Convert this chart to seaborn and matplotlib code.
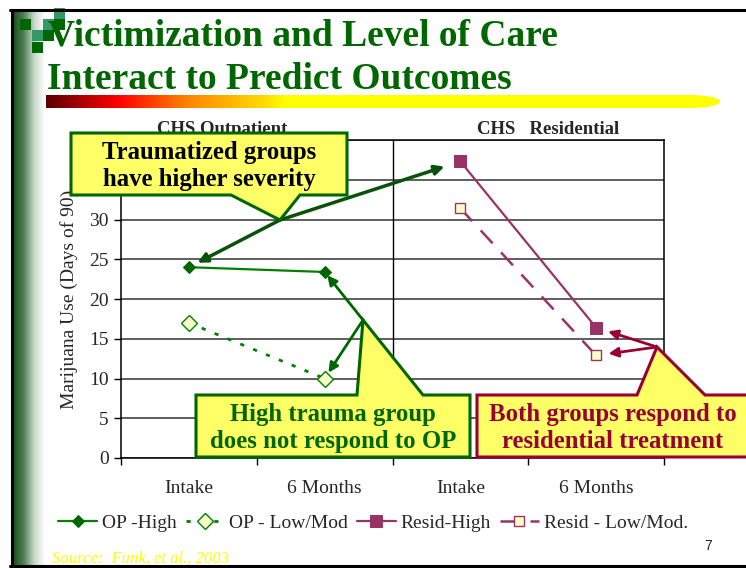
import numpy as np
import matplotlib
matplotlib.use("Agg")
import matplotlib.pyplot as plt
import seaborn as sns
from matplotlib.patches import Polygon, Rectangle, Ellipse
from matplotlib.lines import Line2D
from matplotlib.colors import LinearSegmentedColormap

# chart data
time_labels = ["Intake", "6 Months", "Intake", "6 Months"]
op_high = [24.0, 23.4]
op_low = [17.0, 10.0]
resid_high = [37.3, 16.4]
resid_low = [31.4, 12.9]
series_names = ["OP -High", "OP - Low/Mod", "Resid-High", "Resid - Low/Mod."]
panel_titles = ["CHS Outpatient", "CHS   Residential"]

W, H = 746, 568
GREEN = "#006600"
LINE_GREEN = "#008000"
PLUM = "#993366"
CRIMSON = "#990033"
CALLOUT = "#FFFF66"
CREAM = "#FFFFCC"

sns.set_style("white")
plt.rcParams["font.family"] = ["Liberation Serif", "DejaVu Serif"]


def fx(x):
    return x / W


def fy(y):
    return 1 - y / H


fig = plt.figure(figsize=(W / 100, H / 100), dpi=100)
fig.patch.set_facecolor("white")

# slide decoration: left green shade, border, logo squares
shade = fig.add_axes([fx(13), fy(565), fx(45) - fx(13), (565 - 11) / H])
shade_cmap = LinearSegmentedColormap.from_list("shade", ["#174f17", "#4f7f55", "#c8d8c8", "#ffffff"])
shade.imshow(np.linspace(0, 1, 200)[None, :], aspect="auto", cmap=shade_cmap)
shade.axis("off")

for (x0, y0, c) in [(54, 8, "#339966"), (20, 19, GREEN), (43, 19, "#339966"), (54, 19, GREEN),
                    (32, 30, "#339966"), (43, 30, GREEN), (32, 42, GREEN)]:
    fig.add_artist(Rectangle((fx(x0), fy(y0 + 11)), 11 / W, 11 / H, transform=fig.transFigure,
                             facecolor=c, edgecolor="none", zorder=4))

for xs, ys in [((10, 746), (10, 10)), ((11.5, 11.5), (10, 566)), ((10, 746), (566, 566))]:
    fig.add_artist(Line2D([fx(v) for v in xs], [fy(v) for v in ys], transform=fig.transFigure,
                          color="black", lw=2.2, zorder=20))

# title and gradient bar
fig.text(fx(48), fy(45), "Victimization and Level of Care", fontsize=27, weight="bold",
         color=GREEN, va="baseline", zorder=6)
fig.text(fx(47), fy(89), "Interact to Predict Outcomes", fontsize=27, weight="bold",
         color=GREEN, va="baseline", zorder=6)

bar = fig.add_axes([fx(46), fy(108), fx(286) - fx(46), 13 / H])
bar_cmap = LinearSegmentedColormap.from_list(
    "bar", [(0, "#5a0000"), (0.3, "#ff0000"), (0.6, "#ff8800"), (0.92, "#ffdd00"), (1, "#ffff00")])
bar.imshow(np.linspace(0, 1, 300)[None, :], aspect="auto", cmap=bar_cmap)
bar.axis("off")
fig.add_artist(Rectangle((fx(285), fy(108)), (690 - 285) / W, 13 / H, transform=fig.transFigure,
                         facecolor="#ffff00", edgecolor="none"))
fig.add_artist(Ellipse((fx(690), fy(101.5)), 60 / W, 13 / H, transform=fig.transFigure,
                       facecolor="#ffff00", edgecolor="none"))

# main chart
ax = fig.add_axes([fx(121), fy(458), fx(664) - fx(121), fy(140) - fy(458)])
op_x = np.arange(len(op_high))
resid_x = op_x + len(op_high)

sns.lineplot(x=op_x, y=op_high, ax=ax, color=LINE_GREEN, lw=1.6, marker="D", markersize=6,
             markerfacecolor=GREEN, markeredgecolor=GREEN, label=series_names[0], legend=False)
sns.lineplot(x=op_x, y=op_low, ax=ax, color=LINE_GREEN, lw=2, linestyle=(0, (1.5, 3.5)),
             marker="D", markersize=8, markerfacecolor=CREAM, markeredgecolor=LINE_GREEN,
             markeredgewidth=1, label=series_names[1], legend=False)
sns.lineplot(x=resid_x, y=resid_high, ax=ax, color=PLUM, lw=1.6, marker="s", markersize=9,
             markerfacecolor=PLUM, markeredgecolor=PLUM, label=series_names[2], legend=False)
sns.lineplot(x=resid_x, y=resid_low, ax=ax, color=PLUM, lw=1.8, linestyle=(0, (7, 5)),
             marker="s", markersize=7, markerfacecolor=CREAM, markeredgecolor=PLUM,
             markeredgewidth=1, label=series_names[3], legend=False)

ax.set_xlim(-0.5, len(time_labels) - 0.5)
ax.set_ylim(0, 40)
ax.set_xticks(np.arange(len(time_labels)))
ax.set_xticklabels(time_labels, fontsize=14)
ax.set_xticks(np.arange(-0.5, len(time_labels), 1), minor=True)
ax.tick_params(axis="x", which="major", bottom=True, length=0, pad=16)
ax.tick_params(axis="x", which="minor", bottom=True, length=5, width=1, color="black", direction="out")
ax.set_yticks(np.arange(0, 41, 5))
ax.tick_params(axis="y", left=True, length=5, width=1, color="black", direction="out",
               labelsize=14, pad=4)
ax.yaxis.grid(True, color="#333333", lw=1.1)
ax.xaxis.grid(False)
ax.axvline(len(op_high) - 0.5, color="black", lw=1)
for s in ax.spines.values():
    s.set_visible(True)
    s.set_color("black")
    s.set_linewidth(1.1)
ax.set_xlabel("")
ax.set_ylabel("Marijuana Use (Days of 90)", fontsize=14, labelpad=8)

fig.text(fx(222), fy(134), panel_titles[0], ha="center", va="baseline", fontsize=13.5, weight="bold")
fig.text(fx(548), fy(134), panel_titles[1], ha="center", va="baseline", fontsize=13.5, weight="bold")

handles, labels = ax.get_legend_handles_labels()
fig.legend(handles, labels, loc="center", bbox_to_anchor=(fx(373), fy(523)), ncol=4, frameon=False,
           fontsize=14, handlelength=2.0, handletextpad=0.25, columnspacing=0.45)


# callouts
def callout(verts, edge, text, center, color):
    fig.add_artist(Polygon([(fx(x), fy(y)) for x, y in verts], closed=True, transform=fig.transFigure,
                           facecolor=CALLOUT, edgecolor=edge, lw=2.2, zorder=10))
    fig.text(fx(center[0]), fy(center[1]), text, ha="center", va="center", fontsize=17.8,
             weight="bold", color=color, linespacing=1.25, zorder=11)


def arrow(tip, target, color, lw, shrink):
    ax.annotate("", xy=target, xytext=(tip[0], H - tip[1]), textcoords="figure pixels",
                arrowprops=dict(arrowstyle="-|>", color=color, lw=lw, shrinkA=0, shrinkB=shrink,
                                mutation_scale=14), annotation_clip=False)


arrow((280, 220), (op_x[0], op_high[0]), "#0b500b", 2.5, 7)
arrow((280, 220), (resid_x[0], resid_high[0]), "#0b500b", 2.5, 12)
callout([(71, 133), (347, 133), (347, 195), (300, 195), (280, 220), (231, 195), (71, 195)],
        GREEN, "Traumatized groups\nhave higher severity", (209, 166), "black")

arrow((363, 320), (op_x[1], op_high[1]), GREEN, 2, 3)
arrow((363, 320), (op_x[1], op_low[1]), GREEN, 2, 5)
callout([(196, 395), (357, 395), (363, 320), (423, 395), (470, 395), (470, 457), (196, 457)],
        GREEN, "High trauma group\ndoes not respond to OP", (333, 428), GREEN)

arrow((657, 347), (resid_x[1], resid_high[1]), CRIMSON, 2, 9)
arrow((657, 347), (resid_x[1], resid_low[1]), CRIMSON, 2, 9)
callout([(477, 395), (637, 395), (657, 347), (705, 395), (752, 395), (752, 457), (477, 457)],
        CRIMSON, "Both groups respond to\nresidential treatment", (613, 428), CRIMSON)

# footer
fig.text(fx(52), fy(563), "Source:  Funk, et al., 2003", fontsize=12, style="italic",
         color="#ffff00", va="baseline")
fig.text(fx(708), fy(546), "7", fontsize=10, ha="center", va="center", family="Liberation Sans")

fig.savefig("out.png", dpi=100)
